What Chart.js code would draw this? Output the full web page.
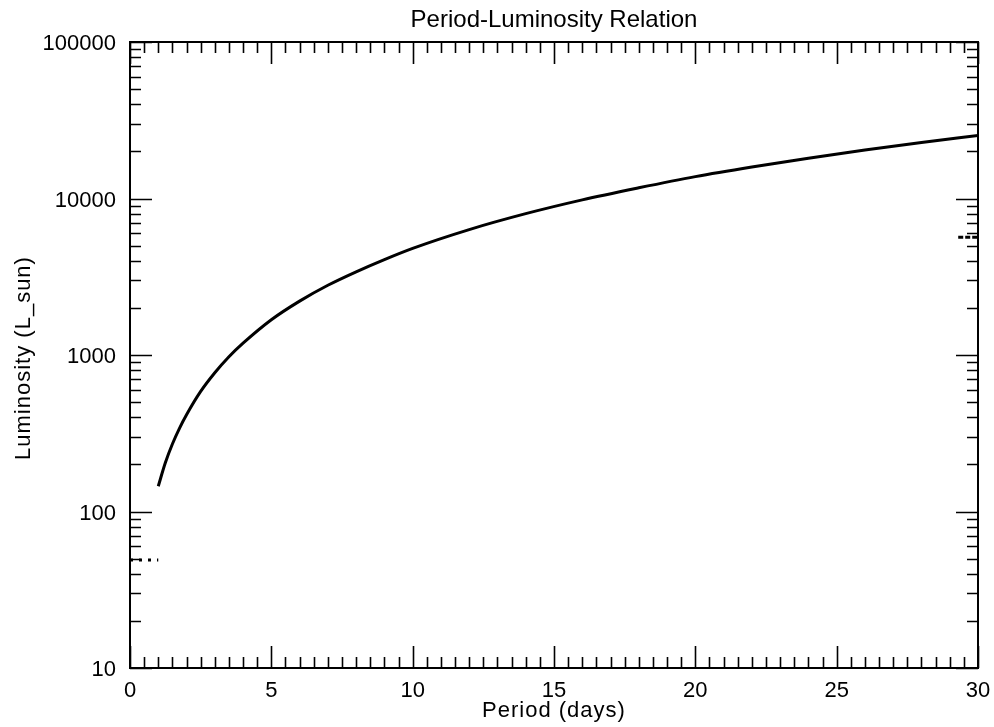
<!DOCTYPE html>
<html>
<head>
<meta charset="utf-8">
<script src="https://cdn.jsdelivr.net/npm/chart.js@4/dist/chart.umd.min.js"></script>
<style>
  html, body { margin: 0; padding: 0; background: #fff; }
  #wrap { width: 994px; height: 727px; position: relative; }
</style>
</head>
<body>
<div id="wrap"><canvas id="plc"></canvas></div>
<script>
// ── Data ──────────────────────────────────────────────────────────
const periods     = [1, 1.25, 1.5, 1.75, 2, 2.5, 3, 3.5, 4, 5, 6, 7, 8, 9, 10, 12, 14, 16, 18, 20, 22, 24, 26, 28, 30];
const luminosity  = [145, 205, 270, 340, 415, 585, 770, 975, 1190, 1680, 2210, 2790, 3400, 4070, 4800, 6330, 8000, 9800, 11700, 13800, 15900, 18100, 20400, 22800, 25300];

// stray dashed fragments at the edges
const leftFragX   = [0, 1.0];
const leftFragY   = [49, 49];
const rightFragX  = [29.3, 30];
const rightFragY  = [5650, 5650];

const xTicks      = [0, 5, 10, 15, 20, 25, 30];
const yTicks      = [10, 100, 1000, 10000, 100000];

const TITLE  = "Period-Luminosity Relation";
const XTITLE = "Period (days)";
const YTITLE = "Luminosity (L_sun)";

const pts = (xs, ys) => xs.map((x, i) => ({ x, y: ys[i] }));

// ── Frame, ticks and labels (IDL style, ticks inside on all sides) ──
const framePlugin = {
  id: "frame",
  afterDraw(chart) {
    const { ctx, chartArea: a, scales: { x, y } } = chart;
    ctx.save();
    ctx.strokeStyle = "#000";
    ctx.fillStyle = "#000";
    ctx.lineWidth = 2;
    ctx.strokeRect(a.left, a.top, a.right - a.left, a.bottom - a.top);

    ctx.lineWidth = 1.6;
    ctx.beginPath();
    // x ticks every 0.5, major every 5
    for (let i = 0; i <= 60; i++) {
      const v = i * 0.5;
      const px = Math.round(x.getPixelForValue(v)) + 0.5;
      const len = (i % 10 === 0) ? 22 : 11;
      ctx.moveTo(px, a.bottom); ctx.lineTo(px, a.bottom - len);
      ctx.moveTo(px, a.top);    ctx.lineTo(px, a.top + len);
    }
    // y log ticks
    for (let d = 1; d <= 5; d++) {
      for (let m = 1; m <= 9; m++) {
        const v = m * Math.pow(10, d);
        if (v > 100000) break;
        const py = Math.round(y.getPixelForValue(v)) + 0.5;
        const len = (m === 1) ? 22 : 11;
        ctx.moveTo(a.left, py);  ctx.lineTo(a.left + len, py);
        ctx.moveTo(a.right, py); ctx.lineTo(a.right - len, py);
      }
    }
    ctx.stroke();

    // tick labels
    ctx.font = "22px 'Liberation Sans', Arial, sans-serif";
    ctx.textBaseline = "alphabetic";
    ctx.textAlign = "center";
    xTicks.forEach(v => ctx.fillText(String(v), x.getPixelForValue(v), 697));
    ctx.textAlign = "right";
    yTicks.forEach(v => ctx.fillText(String(v), 116, y.getPixelForValue(v) + 8));

    // titles
    const cx = (a.left + a.right) / 2;
    ctx.textAlign = "center";
    ctx.font = "24px 'Liberation Sans', Arial, sans-serif";
    ctx.fillText(TITLE, cx, 27);

    ctx.font = "22px 'Liberation Sans', Arial, sans-serif";
    ctx.letterSpacing = "1px";
    ctx.fillText(XTITLE, cx, 717);

    ctx.translate(30, (a.top + a.bottom) / 2 + 3);
    ctx.rotate(-Math.PI / 2);
    ctx.fillText(YTITLE, 0, 0);
    ctx.restore();
  }
};

new Chart(document.getElementById("plc"), {
  type: "scatter",
  data: {
    datasets: [
      {
        data: pts(periods, luminosity),
        showLine: true,
        borderColor: "#000",
        borderWidth: 3,
        pointRadius: 0,
        cubicInterpolationMode: "monotone",
      },
      {
        data: pts(leftFragX, leftFragY),
        showLine: true,
        borderColor: "#000",
        borderWidth: 3,
        borderDash: [3, 6],
        pointRadius: 0,
      },
      {
        data: pts(rightFragX, rightFragY),
        showLine: true,
        borderColor: "#000",
        borderWidth: 3,
        borderDash: [5, 2],
        pointRadius: 0,
      },
    ]
  },
  options: {
    responsive: true, maintainAspectRatio: false,
    animation: false,
    layout: { padding: { left: 130, top: 42, right: 16, bottom: 59 } },
    plugins: { legend: { display: false }, tooltip: { enabled: false } },
    scales: {
      x: { type: "linear", min: 0, max: 30, display: false },
      y: { type: "logarithmic", min: 10, max: 100000, display: false },
    }
  },
  plugins: [framePlugin]
});
</script>
</body>
</html>
